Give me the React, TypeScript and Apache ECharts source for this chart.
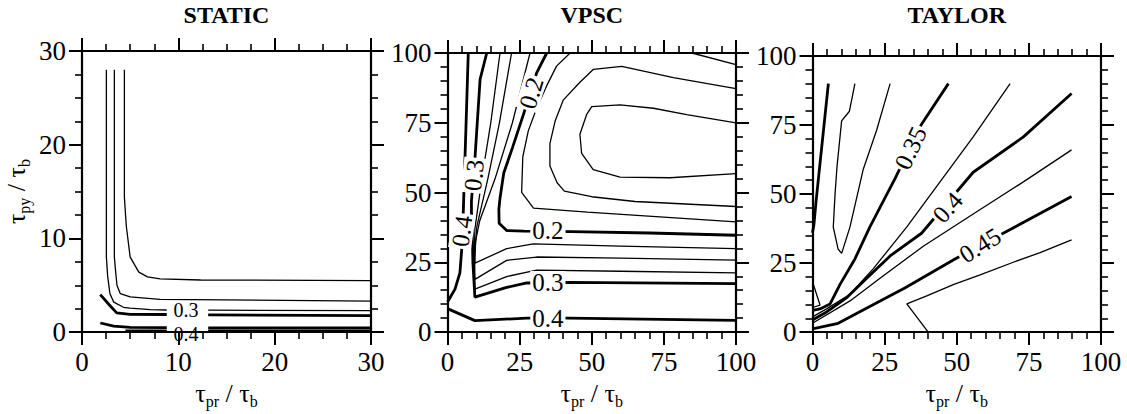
import React, { useEffect, useRef } from "react";
import * as echarts from "echarts";

const FONT = "'Liberation Serif', 'Times New Roman', serif";

// ---------- tick values ----------
const staticTicks = { min: 0, max: 30, interval: 10, minor: 4 };
const vpscTicks = { min: 0, max: 100, interval: 25, minor: 5 };
const taylorTicks = { min: 0, max: 100, interval: 25, minor: 5 };

const titles = ["STATIC", "VPSC", "TAYLOR"];

// ---------- STATIC contours ----------
const staticThinA = [[4.4, 28], [4.4, 14.4], [4.6, 11.3], [5.0, 8.0], [5.9, 6.4], [6.8, 5.9], [8.1, 5.67], [12.3, 5.56], [30, 5.5]];
const staticThinB = [[3.36, 28], [3.36, 8], [3.46, 6.8], [3.63, 5.0], [3.98, 4.1], [5.0, 3.75], [8.1, 3.5], [30, 3.3]];
const staticThinC1 = [[2.53, 28], [2.53, 8], [2.66, 6.0], [2.9, 4.1], [3.3, 3.2], [4.3, 2.65], [5.0, 2.55], [7.1, 2.4], [8.8, 2.36]];
const staticThinC2 = [[13.1, 2.34], [30, 2.3]];
const staticBold03a = [[1.9, 4.0], [2.8, 2.95], [3.6, 2.05], [5.0, 1.9], [8.8, 1.88]];
const staticBold03b = [[13.1, 1.84], [30, 1.75]];
const staticBold04a = [[1.9, 0.97], [3.3, 0.63], [5.0, 0.5], [8.8, 0.47]];
const staticBold04b = [[13.1, 0.46], [30, 0.45]];
const staticBoldZa = [[4.5, 0.12], [8.8, 0.12]];
const staticBoldZb = [[13.1, 0.12], [30, 0.12]];
const staticLabels = [
  { text: "0.3", at: [10.8, 2.35], angle: 0 },
  { text: "0.4", at: [10.8, -0.3], angle: 0 },
];

// ---------- VPSC contours ----------
const vpscCorner = [[84.7, 100], [100, 95.8]];
const vpscLoop1 = [[100, 56.8], [77.1, 55.3], [59.8, 55.5], [50.5, 58.2], [46.5, 64], [45.9, 70.9], [48.2, 77.9], [50, 80.8], [59.8, 81.4], [71.4, 80.2], [82.9, 77.9], [100, 75]];
const vpscLoop2 = [[100, 87.2], [78.3, 91.2], [60.4, 95.2], [50.5, 94.1], [45.9, 89.5], [40.1, 83.1], [37.3, 75.6], [35.5, 67.5], [35.5, 59.5], [38, 53.5], [40.5, 50.5], [50, 48.5], [65, 46.8], [100, 45]];
const vpscLoop3 = [[42.5, 100], [37.8, 95.3], [34.4, 88.3], [30.9, 80.2], [28, 72.1], [26.1, 62.8], [25.7, 50.1], [29.8, 44.4], [48.5, 43], [100, 39.5]];
const vpscThinA = [[18.2, 100], [15, 75], [12.2, 57], [9.5, 37], [9.2, 25], [9.5, 15.4], [20.5, 19.9], [30.9, 22.2], [60, 21.8], [100, 21.2]];
const vpscThinB = [[22.2, 100], [18, 75], [14, 55], [10.2, 38], [9.4, 27], [9.5, 18.9], [20.5, 25.7], [30.9, 26.9], [60, 26.5], [100, 25.8]];
const vpscThinC = [[28.6, 100], [22.5, 75], [16.5, 55], [11.2, 40], [9.6, 32], [9.5, 24.7], [20.5, 29.9], [29.7, 31.6], [60, 30.8], [100, 29.9]];
const vpscBold02 = [[34.4, 100], [30.9, 92.9], [26.3, 77.9], [22.5, 66], [19.5, 57], [18.2, 48], [17.8, 44], [17.9, 39], [20.5, 36.4], [26.5, 36.2], [43, 36], [70, 35.5], [100, 34.7]];
const vpscBold03 = [[13.6, 100], [11.3, 90.6], [9.5, 62], [8.3, 47], [8.3, 43], [8.6, 36], [8.8, 25], [9.5, 12.5], [20.5, 16], [27.5, 17.6], [42, 17.8], [100, 17.4]];
const vpscBold04a = [[7.2, 100], [6.6, 80], [5.5, 44], [4.9, 29.3], [4.3, 21.2], [2.6, 15.4], [0, 10.8]];
const vpscBold04b = [[0, 8.4], [9.5, 4.1], [27.5, 5.0], [42, 5], [100, 4.2]];
const vpscLabels = [
  { text: "0.2", at: [29.0, 85.5], angle: 73 },
  { text: "0.3", at: [9.2, 56], angle: 84 },
  { text: "0.4", at: [5.0, 36], angle: 82 },
  { text: "0.2", at: [34.8, 36.3], angle: 0 },
  { text: "0.3", at: [34.8, 17.6], angle: 0 },
  { text: "0.4", at: [34.8, 4.8], angle: 0 },
];

// ---------- TAYLOR contours ----------
const taylorBold1 = [[5.5, 90], [2.6, 61], [1.2, 47], [0.5, 39], [0, 36]];
const taylorThinU = [[14.7, 90], [12.8, 80], [10.1, 76.5], [8.5, 60], [7.8, 49.7], [7.2, 38], [8.9, 30], [10.1, 28.5], [13, 38.1], [17.6, 59], [22.2, 73], [26.9, 90]];
const taylorBold035 = [[47.1, 90], [37.8, 75.3], [28.6, 55.6], [19.9, 38.1], [14.7, 26.5], [9.5, 17.2], [6.1, 10.2], [2.6, 8.4], [0, 7.9]];
const taylorThin1 = [[68.5, 90], [55.7, 70.7], [44.2, 54.4], [32.7, 38.1], [21.1, 23], [13, 13.7], [4.9, 8.4], [0, 5.5]];
const taylorBold04 = [[89.8, 86.4], [73.1, 70.7], [55.7, 57.9], [37.8, 35.8], [26.9, 27.6], [18.8, 19.5], [11.9, 12.5], [4.9, 7.3], [0, 4.4]];
const taylorThin2 = [[89.8, 66], [73.1, 54.4], [55.7, 42.8], [38.4, 31.1], [23.4, 19.5], [13, 11.3], [0, 3.2]];
const taylorBold045 = [[89.8, 49.1], [66.1, 35.8], [49.4, 26.5], [32, 16], [20.5, 9.6], [8.9, 3.2], [0, 1.2]];
const taylorThin3 = [[89.8, 33.4], [78.9, 28.8], [69.6, 25.3], [58.1, 20.7], [48.8, 17.2], [39.6, 13.1], [32.7, 10.2], [40.1, 0]];
const taylorThin4 = [[0, 18.3], [2.6, 9.8], [0.3, 9.0]];
const taylorLabels = [
  { text: "0.35", at: [34, 66.5], angle: 65 },
  { text: "0.4", at: [46.8, 45], angle: 48 },
  { text: "0.45", at: [58.1, 31.3], angle: 32 },
];

const panels = [
  {
    ticks: staticTicks,
    thin: [staticThinA, staticThinB, staticThinC1, staticThinC2],
    bold: [staticBold03a, staticBold03b, staticBold04a, staticBold04b, staticBoldZa, staticBoldZb],
    labels: staticLabels,
    labelBg: false,
    labelSize: 20,
    yName: true,
    grid: { left: 82, top: 51, width: 289, height: 287 },
  },
  {
    ticks: vpscTicks,
    thin: [vpscCorner, vpscLoop1, vpscLoop2, vpscLoop3, vpscThinA, vpscThinB, vpscThinC],
    bold: [vpscBold02, vpscBold03, vpscBold04a, vpscBold04b],
    labels: vpscLabels,
    labelBg: true,
    labelSize: 25,
    yName: false,
    grid: { left: 447.5, top: 53, width: 288.5, height: 288 },
  },
  {
    ticks: taylorTicks,
    thin: [taylorThinU, taylorThin1, taylorThin2, taylorThin3, taylorThin4],
    bold: [taylorBold1, taylorBold035, taylorBold04, taylorBold045],
    labels: taylorLabels,
    labelBg: true,
    labelSize: 25,
    yName: false,
    grid: { left: 812.5, top: 56, width: 288.5, height: 286.5 },
  },
];

const rich = {
  t: { fontSize: 26, fontFamily: FONT, color: "#000" },
  s: { fontSize: 16, fontFamily: FONT, color: "#000", padding: [16, 0, 0, 0] },
};

function buildOption() {
  const grid: any[] = [];
  const xAxis: any[] = [];
  const yAxis: any[] = [];
  const series: any[] = [];
  const graphic: any[] = [];

  panels.forEach((p, gi) => {
    grid.push({ ...p.grid, containLabel: false });
    const base = (pos: string, showLabel: boolean) => ({
      gridIndex: gi,
      type: "value",
      min: p.ticks.min,
      max: p.ticks.max,
      interval: p.ticks.interval,
      position: pos,
      axisLine: { show: true, onZero: false, lineStyle: { color: "#000", width: 2.2 } },
      axisTick: { show: true, length: 13, lineStyle: { color: "#000", width: 2 } },
      minorTick: { show: true, splitNumber: p.ticks.minor, length: 7, lineStyle: { color: "#000", width: 1.6 } },
      splitLine: { show: false },
      minorSplitLine: { show: false },
      axisLabel: { show: showLabel, fontFamily: FONT, fontSize: 27, color: "#000", margin: 16 },
    });
    xAxis.push({
      ...base("bottom", true),
      name: "{t|τ}{s|pr}{t| / τ}{s|b}",
      nameLocation: "middle",
      nameGap: 44,
      nameTextStyle: { rich },
    });
    xAxis.push(base("top", false));
    const yl: any = base("left", true);
    if (p.yName) {
      yl.name = "{t|τ}{s|py}{t| / τ}{s|b}";
      yl.nameLocation = "middle";
      yl.nameGap = 50;
      yl.nameTextStyle = { rich };
    }
    yAxis.push(yl);
    yAxis.push(base("right", false));

    const xi = gi * 2;
    const yi = gi * 2;
    p.thin.forEach((d) =>
      series.push({
        type: "line", xAxisIndex: xi, yAxisIndex: yi, data: d, showSymbol: false, symbol: "none",
        silent: true, lineStyle: { color: "#000", width: 1.3 }, z: 3,
      })
    );
    p.bold.forEach((d) =>
      series.push({
        type: "line", xAxisIndex: xi, yAxisIndex: yi, data: d, showSymbol: false, symbol: "none",
        silent: true, lineStyle: { color: "#000", width: 2.8 }, z: 3,
      })
    );
    series.push({
      type: "scatter", xAxisIndex: xi, yAxisIndex: yi, symbolSize: 1, silent: true, z: 10, clip: false,
      itemStyle: { color: "#fff", opacity: 1 },
      data: p.labels.map((l) => ({
        value: l.at,
        label: {
          show: true, position: "top", distance: 0, align: "center", verticalAlign: "middle",
          formatter: l.text, rotate: l.angle,
          fontFamily: FONT, fontSize: p.labelSize, lineHeight: p.labelSize - 2, color: "#000", opacity: 1,
          textBorderWidth: 0, textBorderColor: "transparent", textShadowBlur: 0,
          backgroundColor: p.labelBg ? "#fff" : "transparent", padding: [0, 2],
        },
      })),
    });

    graphic.push({
      type: "text",
      x: p.grid.left + p.grid.width / 2,
      y: 3,
      style: { text: titles[gi], fontFamily: FONT, fontSize: 24, fontWeight: "bold", fill: "#000", align: "center", verticalAlign: "top" },
    });
  });

  return { animation: false, backgroundColor: "#fff", grid, xAxis, yAxis, series, graphic };
}

export default function App() {
  const ref = useRef<HTMLDivElement>(null);
  useEffect(() => {
    if (!ref.current) return;
    const chart = echarts.init(ref.current, undefined, { renderer: "svg" });
    chart.setOption(buildOption() as any);
    return () => chart.dispose();
  }, []);
  return <div ref={ref} style={{ position: "fixed", left: 0, top: 0, width: 1127, height: 414, background: "#fff" }} />;
}
